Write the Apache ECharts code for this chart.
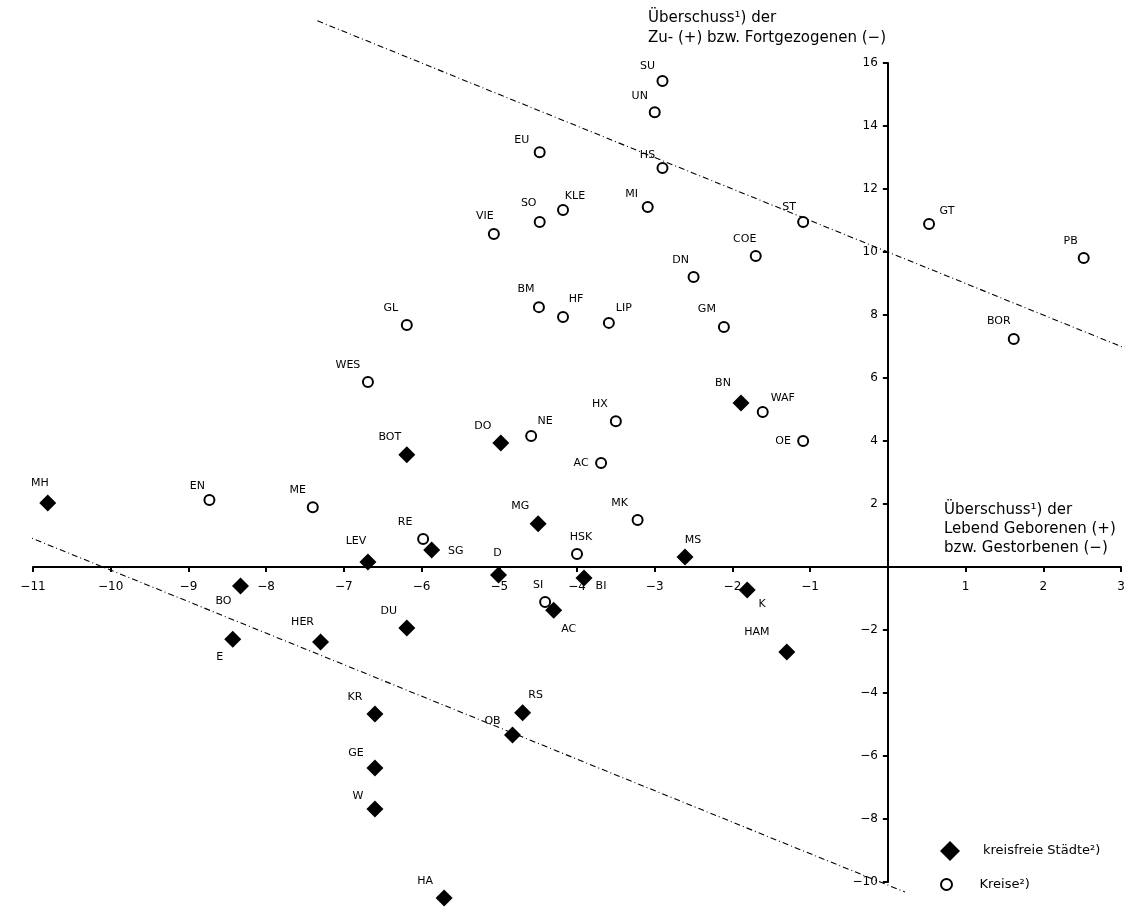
<!DOCTYPE html>
<html>
<head>
<meta charset="utf-8">
<script src="https://cdn.jsdelivr.net/npm/echarts@6/dist/echarts.min.js"></script>
<style>html,body{margin:0;padding:0;background:#fff}#c{width:1138px;height:912px}</style>
</head>
<body>
<div id="c"></div>
<script>
// ---- data ----
var kreisNames = ['SU','UN','EU','HS','MI','KLE','SO','VIE','ST','COE','DN','BM','HF','LIP','GM','GL','WES','NE','HX','AC','WAF','OE','EN','ME','MK','RE','HSK','SI','GT','PB','BOR'];
var kreisX = [-2.90,-3.00,-4.48,-2.90,-3.09,-4.18,-4.48,-5.07,-1.09,-1.70,-2.50,-4.49,-4.18,-3.59,-2.11,-6.19,-6.69,-4.59,-3.50,-3.69,-1.61,-1.09,-8.73,-7.40,-3.22,-5.98,-4.00,-4.41,0.53,2.52,1.62];
var kreisY = [15.43,14.44,13.17,12.67,11.43,11.33,10.95,10.57,10.95,9.87,9.21,8.25,7.94,7.75,7.62,7.68,5.87,4.16,4.63,3.30,4.92,4.00,2.13,1.90,1.49,0.89,0.41,-1.11,10.89,9.81,7.24];

var staedteNames = ['MH','BOT','DO','BN','MG','LEV','SG','D','MS','BI','AC','BO','E','HER','DU','K','HAM','KR','RS','OB','GE','W','HA'];
var staedteX = [-10.81,-6.19,-4.98,-1.89,-4.50,-6.69,-5.87,-5.01,-2.61,-3.91,-4.30,-8.33,-8.43,-7.30,-6.19,-1.81,-1.30,-6.60,-4.70,-4.83,-6.60,-6.60,-5.71];
var staedteY = [2.03,3.56,3.94,5.21,1.37,0.16,0.54,-0.25,0.32,-0.35,-1.37,-0.60,-2.29,-2.38,-1.94,-0.73,-2.70,-4.67,-4.63,-5.33,-6.38,-7.68,-10.51];

// reference lines (x + y = +10 and x + y = -10)
var upperLineX = [-7.34, 3.22];
var upperLineY = [17.34, 6.78];
var lowerLineX = [-11.43, 0.22];
var lowerLineY = [1.33, -10.32];

var xTicks = [-11,-10,-9,-8,-7,-6,-5,-4,-3,-2,-1,0,1,2,3];
var yTicks = [-10,-8,-6,-4,-2,0,2,4,6,8,10,12,14,16];

// ---- label placement (style only) ----
var kreisLabelOff = {
  SU:[-15,-15], UN:[-15,-16], EU:[-18,-12], HS:[-15,-13], MI:[-16,-13], KLE:[12,-14], SO:[-11,-19],
  VIE:[-9,-18], ST:[-14,-15], COE:[-11,-17], DN:[-13,-17], BM:[-13,-18], HF:[13,-18], LIP:[15,-15],
  GM:[-17,-18], GL:[-16,-17], WES:[-20,-17], NE:[14,-15], HX:[-16,-17], AC:[-20,0], WAF:[20,-14],
  OE:[-20,0], EN:[-12,-14], ME:[-15,-17], MK:[-18,-17], RE:[-18,-17], HSK:[4,-17], SI:[-7,-17],
  GT:[18,-13], PB:[-13,-17], BOR:[-15,-18]
};
var staedteLabelOff = {
  MH:[-8,-20], BOT:[-17,-18], DO:[-18,-17], BN:[-18,-20], MG:[-18,-18], LEV:[-12,-21], SG:[24,1],
  D:[-1,-22], MS:[8,-17], BI:[17,8], AC:[15,19], BO:[-17,15], E:[-13,18], HER:[-18,-20], DU:[-18,-17],
  K:[15,14], HAM:[-30,-20], KR:[-20,-17], RS:[13,-18], OB:[-20,-14], GE:[-19,-15], W:[-17,-13], HA:[-19,-17]
};

function buildPoints(names, xs, ys, offs) {
  return names.map(function (n, i) {
    return { name: n, value: [xs[i], ys[i]], label: { offset: offs[n] || [0, -16] } };
  });
}
function pairs(xs, ys) { return xs.map(function (x, i) { return [x, ys[i]]; }); }

var FONT = 'DejaVu Sans';
var W = 1138, H = 912;
var G = { left: 33, right: 17, top: 63, bottom: 30 };
var xMin = xTicks[0], xMax = xTicks[xTicks.length - 1];
var yMin = yTicks[0], yMax = yTicks[yTicks.length - 1];
// shift axes so that they cross at the origin (labels move with them)
var yAxisOffset = -((0 - xMin) / (xMax - xMin) * (W - G.left - G.right));
var xAxisOffset = -((0 - yMin) / (yMax - yMin) * (H - G.top - G.bottom));

var chart = echarts.init(document.getElementById('c'), null, { renderer: 'canvas' });
var fmtNum = function (v) { if (v === 0) return ''; return (v < 0 ? '\u2212' : '') + Math.abs(v); };

chart.setOption({
  backgroundColor: '#fff',
  animation: false,
  grid: G,
  xAxis: {
    type: 'value', min: xMin, max: xMax, interval: 1, position: 'bottom', offset: xAxisOffset,
    splitLine: { show: false },
    axisLine: { onZero: false, lineStyle: { color: '#000', width: 2 } },
    axisTick: { show: true, length: 5, lineStyle: { color: '#000', width: 2 } },
    axisLabel: { margin: 14, color: '#000', fontFamily: FONT, fontSize: 12, formatter: fmtNum }
  },
  yAxis: {
    type: 'value', min: yMin, max: yMax, interval: 2, position: 'left', offset: yAxisOffset,
    splitLine: { show: false },
    axisLine: { onZero: false, lineStyle: { color: '#000', width: 2 } },
    axisTick: { show: true, length: 5, lineStyle: { color: '#000', width: 2 } },
    axisLabel: { margin: 10, color: '#000', fontFamily: FONT, fontSize: 12, formatter: fmtNum }
  },
  legend: [
    {
      orient: 'vertical', left: 935, top: 836, itemWidth: 20, itemHeight: 20,
      textStyle: { color: '#000', fontFamily: FONT, fontSize: 13, padding: [0, 0, 0, 18] },
      data: ['kreisfreie St\u00e4dte\u00b2)']
    },
    {
      orient: 'vertical', left: 935, top: 873, itemWidth: 20, itemHeight: 11,
      textStyle: { color: '#000', fontFamily: FONT, fontSize: 13, padding: [0, 0, 0, 18] },
      data: ['Kreise\u00b2)']
    }
  ],
  series: [
    {
      type: 'line', data: pairs(upperLineX, upperLineY), clip: false, symbol: 'none', silent: true,
      lineStyle: { color: '#000', width: 1.1, type: [6, 3, 1, 3] }, z: 1
    },
    {
      type: 'line', data: pairs(lowerLineX, lowerLineY), clip: false, symbol: 'none', silent: true,
      lineStyle: { color: '#000', width: 1.1, type: [6, 3, 1, 3] }, z: 1
    },
    {
      name: 'kreisfreie St\u00e4dte\u00b2)', type: 'scatter', symbol: 'diamond', symbolSize: 17, clip: false,
      itemStyle: { color: '#000', opacity: 1 },
      label: { show: true, position: 'inside', formatter: '{b}', color: '#000', fontFamily: FONT, fontSize: 11 },
      data: buildPoints(staedteNames, staedteX, staedteY, staedteLabelOff), z: 3
    },
    {
      name: 'Kreise\u00b2)', type: 'scatter', symbol: 'circle', symbolSize: 10, clip: false,
      itemStyle: { color: '#fff', borderColor: '#000', borderWidth: 2, opacity: 1 },
      label: { show: true, position: 'inside', formatter: '{b}', color: '#000', fontFamily: FONT, fontSize: 11 },
      data: buildPoints(kreisNames, kreisX, kreisY, kreisLabelOff), z: 3
    }
  ],
  graphic: [
    { type: 'text', left: 648, top: 11, style: { text: '\u00dcberschuss\u00b9) der', fill: '#000', font: '15px "DejaVu Sans"' } },
    { type: 'text', left: 648, top: 31, style: { text: 'Zu- (+) bzw. Fortgezogenen (\u2212)', fill: '#000', font: '15px "DejaVu Sans"' } },
    { type: 'text', left: 944, top: 503, style: { text: '\u00dcberschuss\u00b9) der', fill: '#000', font: '15px "DejaVu Sans"' } },
    { type: 'text', left: 944, top: 522, style: { text: 'Lebend Geborenen (+)', fill: '#000', font: '15px "DejaVu Sans"' } },
    { type: 'text', left: 944, top: 541, style: { text: 'bzw. Gestorbenen (\u2212)', fill: '#000', font: '15px "DejaVu Sans"' } }
  ]
});
</script>
</body>
</html>
